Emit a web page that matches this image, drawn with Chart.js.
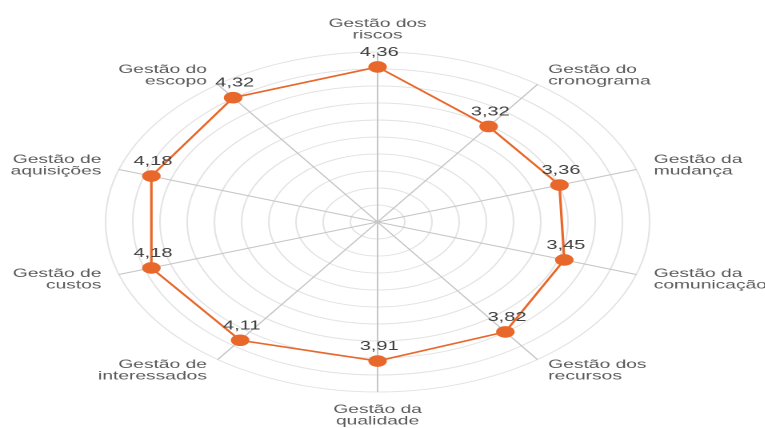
<!DOCTYPE html>
<html>
<head>
<meta charset="utf-8">
<script src="https://cdn.jsdelivr.net/npm/chart.js@4"></script>
<style>
html, body { margin: 0; padding: 0; background: #fff; overflow: hidden; }
/* the reference is stretched sideways, so the canvas is too */
#wrap { width: 478px; height: 428px; transform: scale(1.6, 1); transform-origin: 0 0; }
</style>
</head>
<body>
<div id="wrap"><canvas id="chartRadar" width="478" height="428"></canvas></div>
<script>
// clockwise from the top
const categories = [
    ['Gestão dos', 'riscos'],
    ['Gestão do', 'cronograma'],
    ['Gestão da', 'mudança'],
    ['Gestão da', 'comunicação'],
    ['Gestão dos', 'recursos'],
    ['Gestão da', 'qualidade'],
    ['Gestão de', 'interessados'],
    ['Gestão de', 'custos'],
    ['Gestão de', 'aquisições'],
    ['Gestão do', 'escopo']
];
const scores = [4.36, 3.32, 3.36, 3.45, 3.82, 3.91, 4.11, 4.18, 4.18, 4.32];
const scoreLabels = scores.map(v => v.toFixed(2).replace('.', ','));

const orange = '#E8682C';
// vertical shift of the first label line from the end of each spoke
const labelDy = [-25, -11.5, -6.5, 2.5, 8.5, 21, 8.5, 2.5, -6.5, -11.5];

let labelPlugin = {
    id: 'labelPlugin',
    afterDatasetsDraw(chart) {
        let ctx = chart.ctx;
        let scale = chart.scales.r;
        ctx.save();
        ctx.font = '12px "Liberation Sans", Arial, sans-serif';
        ctx.fillStyle = '#595959';
        ctx.textBaseline = 'alphabetic';
        categories.forEach((lines, i) => {
            let p = scale.getPointPosition(i, scale.drawingArea);
            let s = Math.sin(i * 2 * Math.PI / categories.length);
            let x = p.x;
            let align = 'center';
            if (s > 0.01) { align = 'left'; x += 11.5 * s; }
            else if (s < -0.01) { align = 'right'; x += 11.5 * s; }
            ctx.textAlign = align;
            lines.forEach((t, k) => ctx.fillText(t, x, p.y + labelDy[i] + k * 11.5));
        });

        let meta = chart.getDatasetMeta(0);
        ctx.font = '12.5px "Liberation Sans", Arial, sans-serif';
        ctx.fillStyle = '#404040';
        ctx.textAlign = 'center';
        meta.data.forEach((pt, i) => ctx.fillText(scoreLabels[i], pt.x + 1, pt.y - 11));
        ctx.restore();
    }
};

let contextRadar = document.querySelector('#chartRadar').getContext('2d');

let config = {
    type: 'radar',
    data: {
        labels: categories,
        datasets: [{
            data: scores,
            borderColor: orange,
            backgroundColor: orange,
            borderWidth: 1.6,
            pointRadius: 5.8,
            pointBorderWidth: 0,
            pointBackgroundColor: orange,
            fill: false
        }]
    },
    options: {
        responsive: false,
        devicePixelRatio: 2,
        animation: false,
        layout: { padding: { top: 52, bottom: 36, left: 1, right: 7 } },
        plugins: {
            legend: { display: false },
            tooltip: { enabled: false }
        },
        scales: {
            r: {
                min: 0,
                max: 4.78,
                ticks: { display: false, count: 11 },
                grid: { color: '#e3e3e3', lineWidth: 1, circular: true },
                angleLines: { color: '#c6c6c6', lineWidth: 1 },
                pointLabels: { display: false }
            }
        }
    },
    plugins: [labelPlugin]
};

let chartRadar = new Chart(contextRadar, config);
</script>
</body>
</html>
